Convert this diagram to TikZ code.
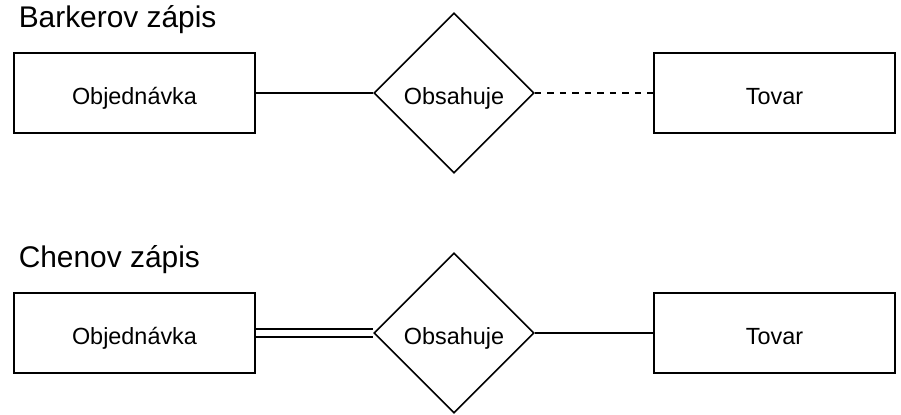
\documentclass[tikz,border=0pt]{standalone}
\usepackage{fontspec}
\setmainfont{Liberation Sans}
\usetikzlibrary{shapes.geometric}
\begin{document}
\begin{tikzpicture}[x=1bp,y=-1bp,
  ent/.style={draw, line width=1.6bp, minimum width=241bp, minimum height=80bp, inner sep=0pt, fill=white, text height=23.4bp, text depth=0pt, font=\fontsize{23.5}{28}\selectfont},
  rel/.style={draw, diamond, aspect=1, line width=1.6bp, minimum width=160bp, minimum height=160bp, inner sep=0pt, fill=white, text height=23.4bp, text depth=0pt, font=\fontsize{23.5}{28}\selectfont},
  ttl/.style={anchor=base west, inner sep=0pt, font=\fontsize{30}{36}\selectfont},
  conn/.style={line width=1.6bp}]
\useasboundingbox (0,0) rectangle (901,414);
% titles
\node[ttl] (t1) at (18.6,27.3) {Barkerov zápis};
\node[ttl] (t2) at (18.6,267.3) {Chenov zápis};
% top row
\node[ent] (r1) at (134.5,93) {Objednávka};
\node[rel] (d1) at (454,93) {Obsahuje};
\node[ent] (r2) at (774.5,93) {Tovar};
\draw[conn] (r1) -- (d1);
\draw[conn, dash pattern=on 6.5bp off 6bp] (d1) -- (r2);
% bottom row
\node[ent] (r3) at (134.5,333) {Objednávka};
\node[rel] (d3) at (454,333) {Obsahuje};
\node[ent] (r4) at (774.5,333) {Tovar};
\draw[conn, double, double distance=6.6bp] (r3) -- (d3);
\draw[conn] (d3) -- (r4);
\end{tikzpicture}
\end{document}
